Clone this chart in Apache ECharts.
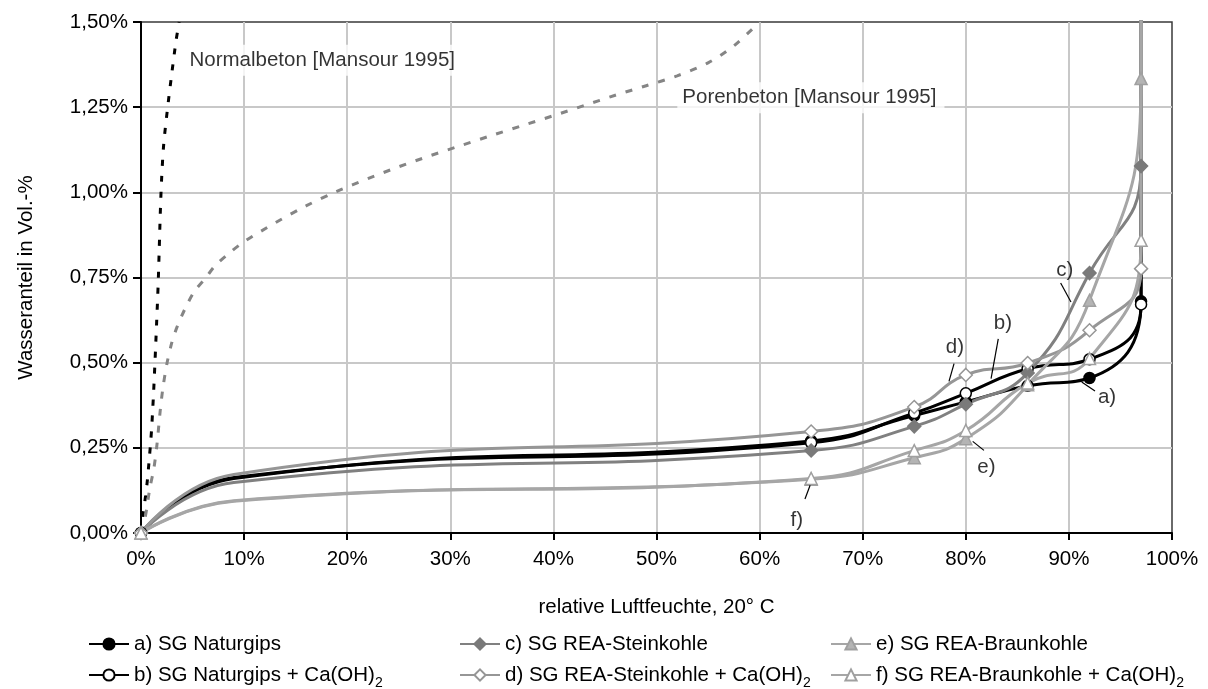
<!DOCTYPE html>
<html>
<head>
<meta charset="utf-8">
<script src="https://cdn.jsdelivr.net/npm/echarts@6/dist/echarts.min.js"></script>
<style>html,body{margin:0;padding:0;background:#fff}#chart{width:1208px;height:689px}</style>
</head>
<body>
<div id="chart"></div>
<script>
// ---------- data (relative humidity in %, water content in Vol.-%) ----------
const rh       = [0, 9, 65, 75, 80, 86, 92, 97, 97];
const measured = [true, false, true, true, true, true, true, true, false];

const sgNaturgips     = [0, 0.160, 0.270, 0.345, 0.385, 0.432, 0.455, 0.680, 2.0];
const sgNaturgipsCa   = [0, 0.163, 0.265, 0.352, 0.410, 0.482, 0.510, 0.671, 2.0];
const sgSteinkohle    = [0, 0.148, 0.242, 0.313, 0.378, 0.470, 0.763, 1.077, 2.0];
const sgSteinkohleCa  = [0, 0.172, 0.298, 0.370, 0.464, 0.499, 0.595, 0.776, 2.0];
const sgBraunkohle    = [0, 0.093, 0.158, 0.221, 0.277, 0.435, 0.683, 1.334, 2.0];
const sgBraunkohleCa  = [0, 0.095, 0.160, 0.242, 0.301, 0.440, 0.512, 0.859, 2.0];

const normalRH = [0, 0.22, 0.45, 0.62, 0.78, 0.92, 1.04, 1.13, 1.21, 1.36, 1.52, 1.66, 1.77, 1.87, 2.0, 2.2, 2.55, 2.95, 3.4, 3.7];
const normalW  = [0, 0.06, 0.11, 0.155, 0.21, 0.26, 0.31, 0.36, 0.405, 0.505, 0.62, 0.727, 0.835, 0.938, 1.04, 1.14, 1.24, 1.34, 1.445, 1.5];

const porenRH = [0, 0.4, 0.85, 1.25, 1.55, 1.85, 2.1, 2.5, 3.0, 3.5, 4.3, 5.2, 6.3, 7.2, 8.5, 10, 13, 16, 19, 22, 25, 28, 31, 34, 37, 40, 43, 46, 49, 52, 55, 57.5, 60];
const porenW  = [0, 0.045, 0.13, 0.19, 0.26, 0.355, 0.42, 0.495, 0.56, 0.605, 0.66, 0.71, 0.75, 0.785, 0.82, 0.855, 0.91, 0.96, 1.003, 1.04, 1.075, 1.107, 1.137, 1.167, 1.196, 1.225, 1.255, 1.285, 1.313, 1.342, 1.38, 1.43, 1.5];

const seriesNames = [
  'a) SG Naturgips', 'b) SG Naturgips + Ca(OH)2',
  'c) SG REA-Steinkohle', 'd) SG REA-Steinkohle + Ca(OH)2',
  'e) SG REA-Braunkohle', 'f) SG REA-Braunkohle + Ca(OH)2'
];
const refNames = ['Normalbeton [Mansour 1995]', 'Porenbeton [Mansour 1995]'];

const xTicks = { min: 0, max: 100, step: 10 };
const yTicks = { min: 0, max: 1.5, step: 0.25 };

// annotation texts (data coordinates)
const annotText = ['a)', 'b)', 'c)', 'd)', 'e)', 'f)'];
const annotRH   = [93.7, 83.6, 89.6, 78.95, 82.0, 63.6];
const annotW    = [0.399, 0.614, 0.771, 0.546, 0.194, 0.037];
const leaderFrom = [[91.24, 0.443], [83.15, 0.570], [89.2, 0.734], [78.86, 0.497], [80.67, 0.269], [64.9, 0.140]];
const leaderTo   = [[92.53, 0.417], [82.45, 0.453], [90.2, 0.678], [78.37, 0.445], [81.76, 0.2425], [64.4, 0.100]];
const refLabelRH = [4.17, 51.97];
const refLabelW  = [1.388, 1.278];

// ---------- chart ----------
const FONT = "'Liberation Sans', Arial, sans-serif";
const FS = 20.5;

function mk(name, vals, lineColor, symbol, size, fill, border) {
  return {
    type: 'line', name: name, smooth: 0.5, animation: false, clip: true,
    data: rh.map((x, i) => ({ value: [x, vals[i]], symbol: measured[i] ? symbol : 'none' })),
    symbol: symbol, symbolSize: size, showSymbol: true,
    lineStyle: { color: lineColor, width: 3 },
    itemStyle: { color: fill, borderColor: border, borderWidth: 1.5 },
    emphasis: { disabled: true }, z: 3
  };
}

const series = [
  {
    type: 'line', name: refNames[0], smooth: 0.3, symbol: 'none', animation: false, clip: true,
    data: normalRH.map((x, i) => [x, normalW[i]]),
    lineStyle: { color: '#000', width: 3, type: [6, 10] }, emphasis: { disabled: true }, z: 2
  },
  {
    type: 'line', name: refNames[1], smooth: 0.3, symbol: 'none', animation: false, clip: true,
    data: porenRH.map((x, i) => [x, porenW[i]]),
    lineStyle: { color: '#858585', width: 3, type: [7, 10] }, emphasis: { disabled: true }, z: 2
  },
  mk(seriesNames[0], sgNaturgips,    '#000000', 'circle',   11, '#000000', '#000000'),
  mk(seriesNames[1], sgNaturgipsCa,  '#000000', 'circle',   11, '#ffffff', '#000000'),
  mk(seriesNames[2], sgSteinkohle,   '#808080', 'diamond',  13, '#7a7a7a', '#7a7a7a'),
  mk(seriesNames[3], sgSteinkohleCa, '#969696', 'diamond',  13, '#ffffff', '#969696'),
  mk(seriesNames[4], sgBraunkohle,   '#a6a6a6', 'triangle', 12, '#b4b4b4', '#a0a0a0'),
  mk(seriesNames[5], sgBraunkohleCa, '#a6a6a6', 'triangle', 12, '#ffffff', '#a0a0a0'),
  {
    type: 'lines', coordinateSystem: 'cartesian2d', animation: false, silent: true, z: 5,
    data: leaderFrom.map((p, i) => ({ coords: [p, leaderTo[i]] })),
    lineStyle: { color: '#000', width: 1.2, opacity: 1 }
  },
  {
    type: 'scatter', animation: false, silent: true, z: 6,
    symbol: 'circle', symbolSize: 1, itemStyle: { color: 'rgba(0,0,0,0)' },
    data: annotText.map((t, i) => ({ name: t, value: [annotRH[i], annotW[i]] })),
    label: { show: true, position: 'inside', formatter: '{b}', color: '#000', fontSize: FS, fontFamily: FONT }
  },
  {
    type: 'scatter', animation: false, silent: true, z: 6,
    symbol: 'circle', symbolSize: 1, itemStyle: { color: 'rgba(0,0,0,0)' },
    data: refNames.map((t, i) => ({ name: t, value: [refLabelRH[i], refLabelW[i]] })),
    label: { show: true, position: 'right', distance: 0, formatter: '{b}', color: '#000', fontSize: FS, fontFamily: FONT,
             backgroundColor: '#ffffff', padding: [5, 8, 5, 5] }
  }
];

const legendText = {
  fontSize: FS, fontFamily: FONT, color: '#000', lineHeight: 22,
  rich: { sub: { fontSize: 14, fontFamily: FONT, color: '#000', lineHeight: 30, verticalAlign: 'bottom' } }
};
function legendFmt(n) { return n.replace(/\(OH\)2$/, '(OH){sub|2}'); }
const legendCols = [88, 459, 830];
const legendRows = [633, 660];
function mkLegend(name, idx) {
  const col = Math.floor(idx / 2), row = idx % 2;
  return {
    data: [name], left: legendCols[col], top: legendRows[row], orient: 'horizontal',
    itemWidth: 40, itemHeight: 14, selectedMode: false, textStyle: legendText, formatter: legendFmt, padding: 0
  };
}

const option = {
  animation: false,
  backgroundColor: '#ffffff',
  grid: { left: 141, right: 36, top: 22, bottom: 156, show: true, borderColor: '#3a3a3a', borderWidth: 1.5,
          containLabel: false, outerBoundsMode: 'none' },
  legend: seriesNames.map((n, i) => mkLegend(n, i)),
  xAxis: {
    type: 'value', min: xTicks.min, max: xTicks.max, interval: xTicks.step,
    name: 'relative Luftfeuchte, 20° C', nameLocation: 'middle', nameGap: 64,
    nameTextStyle: { fontSize: FS, fontFamily: FONT, color: '#000' },
    axisLine: { show: true, onZero: false, lineStyle: { color: '#000', width: 2 } },
    axisTick: { show: true, length: 7, lineStyle: { color: '#000', width: 2 } },
    axisLabel: { formatter: '{value}%', margin: 16, color: '#000', fontSize: FS, fontFamily: FONT },
    splitLine: { show: true, showMaxLine: false, lineStyle: { color: '#c8c8c8', width: 2 } }
  },
  yAxis: {
    type: 'value', min: yTicks.min, max: yTicks.max, interval: yTicks.step,
    name: 'Wasseranteil in Vol.-%', nameLocation: 'middle', nameGap: 104,
    nameTextStyle: { fontSize: FS, fontFamily: FONT, color: '#000' },
    axisLine: { show: true, lineStyle: { color: '#000', width: 2 } },
    axisTick: { show: true, length: 8, lineStyle: { color: '#000', width: 2 } },
    axisLabel: { formatter: v => v.toFixed(2).replace('.', ',') + '%', margin: 13, color: '#000', fontSize: FS, fontFamily: FONT },
    splitLine: { show: true, showMaxLine: false, lineStyle: { color: '#c8c8c8', width: 2 } }
  },
  series: series
};

const chart = echarts.init(document.getElementById('chart'), null, { renderer: 'canvas' });
chart.setOption(option);
</script>
</body>
</html>
